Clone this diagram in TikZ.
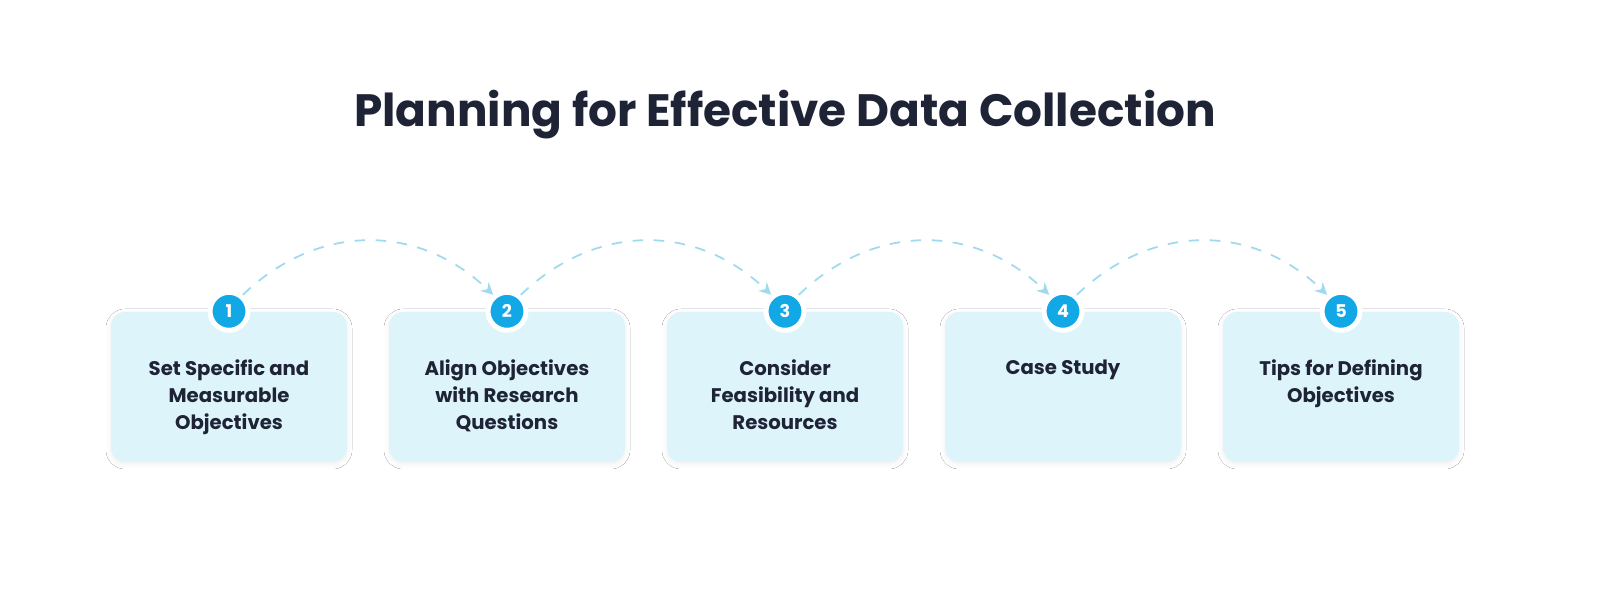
\documentclass[tikz,border=0pt]{standalone}
\usepackage{fontspec}
\setmainfont{Poppins}
\usetikzlibrary{positioning,arrows.meta,shadows.blur}
\definecolor{titleink}{HTML}{1E2336}
\definecolor{boxfill}{HTML}{DDF4FB}
\definecolor{numfill}{HTML}{12A8E6}
\definecolor{arcink}{HTML}{9FDAEE}
\tikzset{
    stepbox/.style = {
        fill=boxfill,
        rounded corners=0.14cm,
        minimum width=2.36cm,
        minimum height=1.5cm,
        blur shadow={shadow xshift=0pt,shadow yshift=-0.02cm,shadow blur radius=0.05cm,shadow opacity=6}
    },
    steptext/.style = {
        anchor=north,
        align=center,
        text=titleink,
        font=\fontsize{5.6pt}{7.7pt}\selectfont\bfseries
    },
    stepnum/.style = {
        shape=circle,
        fill=numfill,
        draw=white,
        line width=0.05cm,
        minimum size=0.38cm,
        inner sep=0pt,
        text=white,
        font=\fontsize{5pt}{6pt}\selectfont\bfseries
    },
    hop/.style = {
        draw=arcink,
        dashed,
        line width=0.5pt,
        -{Stealth[length=1.2mm,width=1.2mm]}
    },
}
\begin{document}
\begin{tikzpicture}
    \useasboundingbox[fill=white] (0,0) rectangle (16,5.92);
    \node[text=titleink, font=\fontsize{12.9pt}{14pt}\selectfont\bfseries] (title) at (7.85,4.77) {Planning for Effective Data Collection};

    \node[stepbox] (box1) at (2.29,2.05) {};
    \node[stepbox] (box2) at (5.07,2.05) {};
    \node[stepbox] (box3) at (7.85,2.05) {};
    \node[stepbox] (box4) at (10.63,2.05) {};
    \node[stepbox] (box5) at (13.41,2.05) {};

    \node[steptext] (txt1) at ([yshift=-0.36cm]box1.north) {Set Specific and\\Measurable\\Objectives};
    \node[steptext] (txt2) at ([yshift=-0.36cm]box2.north) {Align Objectives\\with Research\\Questions};
    \node[steptext] (txt3) at ([yshift=-0.36cm]box3.north) {Consider\\Feasibility and\\Resources};
    \node[steptext] (txt4) at ([yshift=-0.36cm]box4.north) {Case Study};
    \node[steptext] (txt5) at ([yshift=-0.36cm]box5.north) {Tips for Defining\\Objectives};

    \foreach \i in {1,...,5}
        \node[stepnum] (num\i) at (box\i.north) {\i};

    \foreach \i/\j in {1/2,2/3,3/4,4/5}
        \draw[hop] (num\i.50) .. controls +(0.75,0.72) and +(-0.75,0.72) .. (num\j.130);
\end{tikzpicture}
\end{document}
